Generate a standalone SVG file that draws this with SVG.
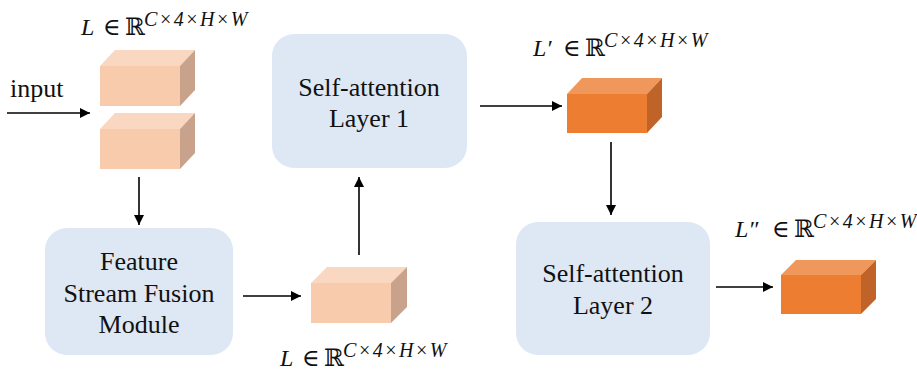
<svg xmlns="http://www.w3.org/2000/svg" width="917" height="371" viewBox="0 0 917 371">
<defs>
<style>
.blk{fill:#DEE8F4}
.lbl{font-family:'Liberation Serif','DejaVu Serif',serif;font-size:26px;fill:#111;text-anchor:middle}
.math{font-family:'Liberation Serif','DejaVu Serif',serif;font-size:24px;fill:#111}
.it{font-style:italic}
.sup{font-style:italic;font-size:20px;letter-spacing:1.4px}
.pf{fill:#F8CBAD}.pt{fill:#F9D7C0}.ps{fill:#C9A28B}
.of{fill:#ED7D31}.ot{fill:#F0975C}.os{fill:#BF6329}
.ln{stroke:#000;stroke-width:1.6;fill:none}
</style>
<marker id="ah" viewBox="0 0 10 10" refX="10" refY="5" markerWidth="10" markerHeight="10" markerUnits="userSpaceOnUse" orient="auto">
<path d="M0,0 L10,5 L0,10 z" fill="#000"/>
</marker>
</defs>
<rect width="917" height="371" fill="#fff"/>

<g id="input-label"><text x="10" y="97" class="lbl" style="text-anchor:start">input</text></g>

<g id="L-top-label"><text y="35" class="math"><tspan x="81" class="it">L</tspan><tspan x="103">∈</tspan><tspan x="125">ℝ</tspan><tspan x="144" dy="-9" class="sup">C×4×H×W</tspan></text></g>

<g id="cube-top-1">
<polygon class="pt" points="100,66 115,50 195,50 180,66"/>
<polygon class="ps" points="180,66 195,50 195,90 180,106"/>
<rect class="pf" x="100" y="66" width="80" height="40"/>
</g>
<g id="cube-top-2">
<polygon class="pt" points="100,129 115,113 195,113 180,129"/>
<polygon class="ps" points="180,129 195,113 195,153 180,169"/>
<rect class="pf" x="100" y="129" width="80" height="40"/>
</g>

<g id="fsfm">
<rect class="blk" x="45" y="228" width="188" height="127" rx="22"/>
<text class="lbl" x="139" y="270">Feature</text>
<text class="lbl" x="139" y="302">Stream Fusion</text>
<text class="lbl" x="139" y="333">Module</text>
</g>

<g id="cube-bottom">
<polygon class="pt" points="311,283 327,267 407,267 391,283"/>
<polygon class="ps" points="391,283 407,267 407,307 391,323"/>
<rect class="pf" x="311" y="283" width="80" height="40"/>
</g>
<g id="L-bottom-label"><text y="366" class="math"><tspan x="280" class="it">L</tspan><tspan x="302">∈</tspan><tspan x="324">ℝ</tspan><tspan x="343" dy="-9" class="sup">C×4×H×W</tspan></text></g>

<g id="sa1">
<rect class="blk" x="272" y="34" width="195" height="134" rx="22"/>
<text class="lbl" x="369" y="96">Self-attention</text>
<text class="lbl" x="369" y="127">Layer 1</text>
</g>

<g id="L1-label"><text y="56" class="math"><tspan x="533" class="it">L′</tspan><tspan x="563">∈</tspan><tspan x="585">ℝ</tspan><tspan x="604" dy="-9" class="sup">C×4×H×W</tspan></text></g>
<g id="cube-L1">
<polygon class="ot" points="567,94 582,78 662,78 647,94"/>
<polygon class="os" points="647,94 662,78 662,117 647,133"/>
<rect class="of" x="567" y="94" width="80" height="39"/>
</g>

<g id="sa2">
<rect class="blk" x="516" y="222" width="194" height="133" rx="22"/>
<text class="lbl" x="613" y="282">Self-attention</text>
<text class="lbl" x="613" y="314">Layer 2</text>
</g>

<g id="L2-label"><text y="237" class="math"><tspan x="735" class="it">L″</tspan><tspan x="772">∈</tspan><tspan x="794">ℝ</tspan><tspan x="813" dy="-9" class="sup">C×4×H×W</tspan></text></g>
<g id="cube-L2">
<polygon class="ot" points="781,275 796,260 876,260 861,275"/>
<polygon class="os" points="861,275 876,260 876,299 861,314"/>
<rect class="of" x="781" y="275" width="80" height="39"/>
</g>

<g id="connectors">
<line class="ln" x1="7" y1="113" x2="90" y2="113" marker-end="url(#ah)"/>
<line class="ln" x1="139" y1="177" x2="139" y2="225" marker-end="url(#ah)"/>
<line class="ln" x1="243" y1="296" x2="301" y2="296" marker-end="url(#ah)"/>
<line class="ln" x1="359" y1="255" x2="359" y2="177" marker-end="url(#ah)"/>
<line class="ln" x1="480" y1="106" x2="562" y2="106" marker-end="url(#ah)"/>
<line class="ln" x1="611" y1="142" x2="611" y2="215" marker-end="url(#ah)"/>
<line class="ln" x1="716" y1="287" x2="773" y2="287" marker-end="url(#ah)"/>
</g>
</svg>
